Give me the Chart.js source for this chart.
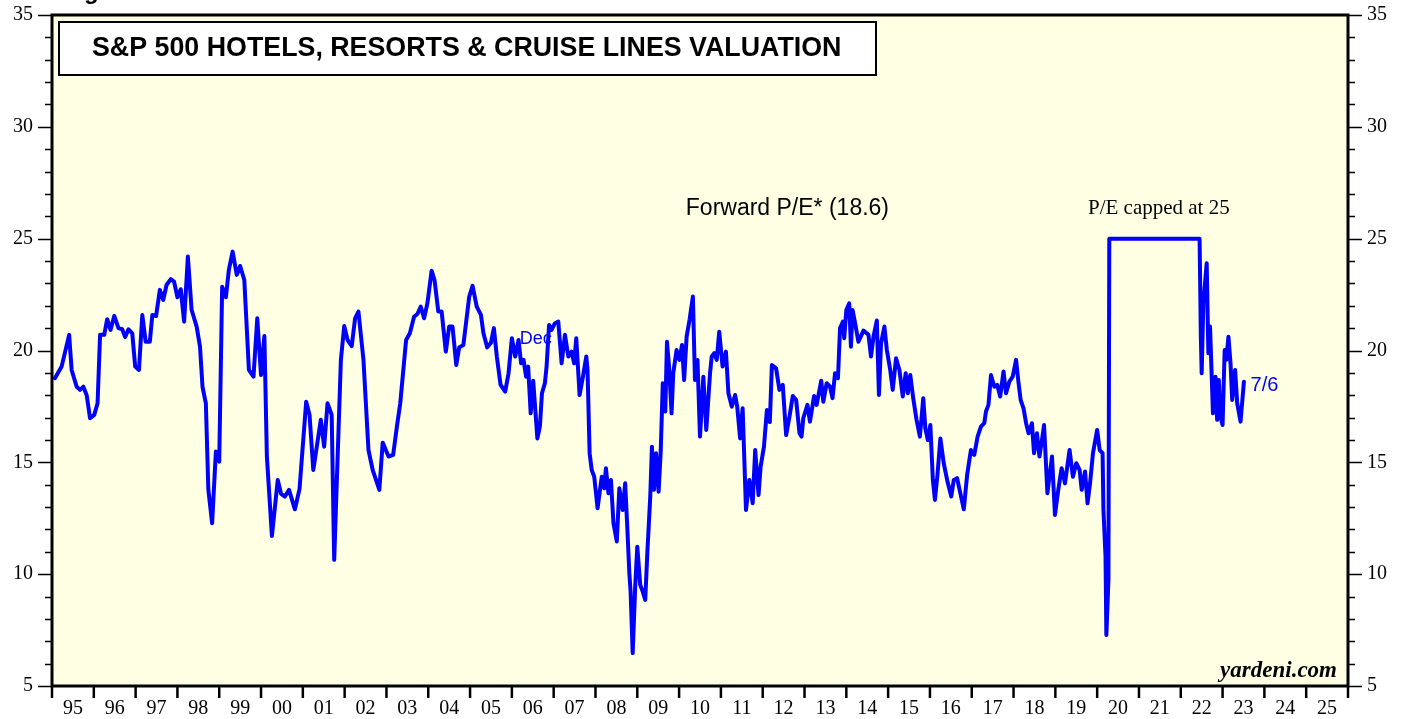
<!DOCTYPE html>
<html>
  <head>
    <title>S&amp;P 500 Hotels, Resorts &amp; Cruise Lines Valuation</title>
    <style>
      body { margin: 0; background: #fff; }
    </style>
  </head>
  <body>
    <canvas id="peChart" width="1408" height="719"></canvas>

    <script src="https://cdn.jsdelivr.net/npm/chart.js@4.4.0/dist/chart.umd.min.js"></script>
    <script>

      // Dates as decimal years, forward P/E
      const dates = [
        1995.07, 1995.23, 1995.41, 1995.47, 1995.59, 1995.67, 1995.75, 1995.83, 1995.91, 1996.01,
        1996.09, 1996.15, 1996.25, 1996.32, 1996.40, 1996.49, 1996.59, 1996.68, 1996.75, 1996.83,
        1996.92, 1996.99, 1997.08, 1997.16, 1997.24, 1997.34, 1997.40, 1997.49, 1997.58, 1997.66,
        1997.74, 1997.84, 1997.92, 1998.00, 1998.08, 1998.16, 1998.25, 1998.34, 1998.46, 1998.54,
        1998.60, 1998.68, 1998.74, 1998.83, 1998.92, 1999.00, 1999.07, 1999.16, 1999.23, 1999.32,
        1999.42, 1999.50, 1999.60, 1999.71, 1999.82, 1999.91, 2000.00, 2000.08, 2000.14, 2000.26,
        2000.40, 2000.48, 2000.57, 2000.67, 2000.81, 2000.92, 2001.08, 2001.16, 2001.25, 2001.43,
        2001.51, 2001.59, 2001.69, 2001.75, 2001.91, 2001.99, 2002.07, 2002.17, 2002.25, 2002.33,
        2002.45, 2002.57, 2002.67, 2002.83, 2002.91, 2003.05, 2003.16, 2003.25, 2003.33, 2003.47,
        2003.56, 2003.66, 2003.74, 2003.82, 2003.90, 2003.98, 2004.08, 2004.15, 2004.24, 2004.32,
        2004.42, 2004.50, 2004.58, 2004.67, 2004.74, 2004.84, 2004.98, 2005.06, 2005.16, 2005.26,
        2005.32, 2005.41, 2005.50, 2005.57, 2005.64, 2005.73, 2005.84, 2005.92, 2006.00, 2006.08,
        2006.16, 2006.22, 2006.28, 2006.34, 2006.39, 2006.45, 2006.51, 2006.61, 2006.67, 2006.72,
        2006.79, 2006.83, 2006.89, 2006.95, 2007.03, 2007.11, 2007.19, 2007.27, 2007.35, 2007.43,
        2007.49, 2007.54, 2007.62, 2007.70, 2007.78, 2007.81, 2007.86, 2007.91, 2007.97, 2008.05,
        2008.15, 2008.21, 2008.25, 2008.31, 2008.37, 2008.43, 2008.51, 2008.57, 2008.65, 2008.71,
        2008.76, 2008.81, 2008.84, 2008.89, 2008.95, 2009.00, 2009.07, 2009.13, 2009.19, 2009.24,
        2009.31, 2009.35, 2009.40, 2009.45, 2009.51, 2009.56, 2009.61, 2009.67, 2009.71, 2009.76,
        2009.82, 2009.86, 2009.94, 2010.01, 2010.07, 2010.12, 2010.18, 2010.25, 2010.33, 2010.38,
        2010.44, 2010.50, 2010.58, 2010.65, 2010.74, 2010.78, 2010.84, 2010.90, 2010.96, 2011.04,
        2011.12, 2011.18, 2011.26, 2011.34, 2011.39, 2011.46, 2011.52, 2011.60, 2011.68, 2011.76,
        2011.82, 2011.90, 2011.95, 2012.03, 2012.10, 2012.17, 2012.22, 2012.32, 2012.40, 2012.48,
        2012.56, 2012.64, 2012.72, 2012.80, 2012.88, 2012.93, 2012.97, 2013.07, 2013.13, 2013.23,
        2013.29, 2013.40, 2013.45, 2013.53, 2013.61, 2013.67, 2013.73, 2013.80, 2013.85, 2013.92,
        2013.95, 2014.00, 2014.07, 2014.11, 2014.15, 2014.21, 2014.29, 2014.41, 2014.53, 2014.59,
        2014.65, 2014.73, 2014.78, 2014.83, 2014.91, 2014.97, 2015.05, 2015.11, 2015.19, 2015.27,
        2015.35, 2015.42, 2015.47, 2015.53, 2015.60, 2015.68, 2015.76, 2015.84, 2015.89, 2015.95,
        2016.01, 2016.07, 2016.12, 2016.18, 2016.25, 2016.33, 2016.42, 2016.51, 2016.57, 2016.65,
        2016.71, 2016.81, 2016.89, 2016.98, 2017.06, 2017.14, 2017.22, 2017.30, 2017.34, 2017.40,
        2017.46, 2017.54, 2017.61, 2017.68, 2017.76, 2017.82, 2017.90, 2017.98, 2018.06, 2018.12,
        2018.17, 2018.24, 2018.30, 2018.36, 2018.44, 2018.49, 2018.56, 2018.62, 2018.68, 2018.73,
        2018.81, 2018.92, 2018.99, 2019.07, 2019.15, 2019.23, 2019.34, 2019.42, 2019.50, 2019.58,
        2019.63, 2019.71, 2019.77, 2019.83, 2019.90, 2020.00, 2020.06, 2020.13, 2020.15, 2020.20,
        2020.22, 2020.27, 2020.29, 2022.45, 2022.48, 2022.50, 2022.54, 2022.62, 2022.66, 2022.70,
        2022.77, 2022.83, 2022.87, 2022.91, 2022.95, 2023.00, 2023.05, 2023.09, 2023.14, 2023.19,
        2023.23, 2023.30, 2023.35, 2023.43, 2023.51
      ];
      const forwardPE = [
        18.76, 19.28, 20.70, 19.13, 18.38, 18.24, 18.38, 18.00, 16.97, 17.12,
        17.64, 20.70, 20.70, 21.40, 20.92, 21.55, 21.00, 20.95, 20.60, 20.95,
        20.77, 19.28, 19.13, 21.59, 20.39, 20.39, 21.59, 21.54, 22.71, 22.26,
        22.93, 23.19, 23.08, 22.38, 22.74, 21.29, 24.20, 21.81, 21.07, 20.17,
        18.38, 17.64, 13.77, 12.28, 15.48, 15.03, 22.85, 22.38, 23.60, 24.42,
        23.38, 23.78, 23.15, 19.13, 18.83, 21.44, 18.90, 20.65, 15.26, 11.71,
        14.21, 13.59, 13.47, 13.77, 12.90, 13.80, 17.71, 17.12, 14.66, 16.90,
        15.70, 17.64, 17.12, 10.64, 19.58, 21.10, 20.47, 20.20, 21.44, 21.74,
        19.58, 15.55, 14.66, 13.77, 15.88, 15.26, 15.33, 16.60, 17.64, 20.47,
        20.77, 21.51, 21.63, 21.96, 21.44, 22.11, 23.57, 23.15, 21.74, 21.74,
        19.95, 21.07, 21.07, 19.35, 20.14, 20.25, 22.41, 22.89, 21.96, 21.59,
        20.77, 20.14, 20.35, 21.00, 19.73, 18.46, 18.16, 18.98, 20.55, 19.73,
        20.47, 19.43, 19.58, 18.83, 19.28, 17.19, 18.65, 16.07, 16.60, 18.09,
        18.54, 19.28, 21.14, 20.92, 21.22, 21.29, 19.43, 20.70, 19.73, 19.95,
        19.43, 20.55, 18.01, 18.83, 19.73, 19.13, 15.41, 14.66, 14.36, 12.95,
        14.36, 13.84, 14.74, 13.62, 14.21, 12.28, 11.46, 13.84, 12.87, 14.06,
        12.13, 10.04, 9.22, 6.47, 9.44, 11.23, 9.52, 9.22, 8.85, 10.94,
        13.47, 15.70, 13.77, 15.41, 13.69, 15.48, 18.54, 17.27, 20.39, 19.28,
        17.19, 18.98, 20.02, 19.58, 20.25, 18.68, 20.62, 21.37, 22.41, 18.68,
        19.58, 16.15, 18.83, 16.45, 18.98, 19.73, 19.88, 19.58, 20.84, 19.28,
        19.95, 18.09, 17.49, 18.01, 17.49, 16.07, 17.42, 12.87, 14.21, 13.17,
        15.55, 13.54, 14.81, 15.70, 17.34, 16.80, 19.35, 19.20, 18.24, 18.46,
        16.22, 17.04, 17.97, 17.79, 16.30, 16.15, 16.97, 17.57, 16.82, 17.97,
        17.57, 18.65, 17.71, 18.54, 18.38, 17.87, 18.98, 18.76, 21.00, 21.29,
        20.55, 21.81, 22.11, 20.17, 21.81, 21.22, 20.39, 20.89, 20.70, 19.73,
        20.62, 21.34, 18.01, 20.32, 21.07, 20.02, 19.13, 18.24, 19.65, 19.13,
        17.94, 18.98, 18.09, 18.90, 17.87, 16.90, 16.15, 17.87, 16.52, 16.00,
        16.67, 14.21, 13.32, 14.44, 16.07, 14.96, 14.14, 13.47, 14.21, 14.29,
        13.77, 12.90, 14.44, 15.55, 15.33, 16.15, 16.60, 16.75, 17.27, 17.57,
        18.90, 18.38, 18.46, 17.94, 19.06, 18.09, 18.61, 18.83, 19.58, 18.54,
        17.79, 17.40, 16.75, 16.30, 16.75, 15.41, 16.30, 15.26, 16.00, 16.67,
        13.62, 15.26, 12.65, 13.77, 14.74, 14.06, 15.55, 14.36, 14.96, 14.66,
        13.77, 14.59, 13.17, 14.06, 15.41, 16.45, 15.55, 15.41, 12.87, 10.79,
        7.28, 9.74, 25.00, 25.00, 20.62, 18.98, 22.11, 23.90, 19.88, 21.07,
        17.19, 18.83, 16.90, 18.68, 17.04, 16.67, 20.02, 19.58, 20.62, 19.43,
        17.79, 19.13, 17.64, 16.82, 18.60
      ];

      // Axis ranges and tick labels
      const yearStart = 1995;
      const yearEnd = 2026;
      const yearLabels = ["95", "96", "97", "98", "99", "00", "01", "02", "03", "04", "05", "06", "07",
        "08", "09", "10", "11", "12", "13", "14", "15", "16", "17", "18", "19", "20", "21", "22", "23", "24", "25"];
      const yMin = 5;
      const yMax = 35;
      const yLabels = [5, 10, 15, 20, 25, 30, 35];

      const serif = "'Liberation Serif', 'Times New Roman', serif";
      const sans = "'Liberation Sans', Arial, sans-serif";

      // Background, axes, ticks and notes, drawn with the chart's scales
      const decorations = {
        id: "decorations",
        beforeDraw(chart) {
          const { ctx, chartArea: a } = chart;
          ctx.save();
          ctx.fillStyle = "#ffffe4";
          ctx.fillRect(a.left, a.top, a.right - a.left, a.bottom - a.top);
          ctx.restore();
        },
        beforeDatasetsDraw(chart) {
          const { ctx, scales } = chart;
          ctx.save();
          ctx.fillStyle = "#0000ff";
          ctx.font = "18px " + sans;
          ctx.textBaseline = "middle";
          ctx.fillText("Dec", scales.x.getPixelForValue(2006.19), scales.y.getPixelForValue(20.5));
          ctx.restore();
        },
        afterDraw(chart) {
          const { ctx, chartArea: a, scales } = chart;
          const x = scales.x, y = scales.y;
          ctx.save();

          // y ticks, both sides
          ctx.strokeStyle = "#000";
          ctx.lineWidth = 1.5;
          for (let v = yMin; v <= yMax; v++) {
            const py = Math.round(y.getPixelForValue(v)) + 0.5;
            const len = v % 5 === 0 ? 14 : 7;
            ctx.beginPath();
            ctx.moveTo(a.left - len, py);
            ctx.lineTo(a.left, py);
            ctx.moveTo(a.right, py);
            ctx.lineTo(a.right + len, py);
            ctx.stroke();
          }
          ctx.fillStyle = "#000";
          ctx.font = "20px " + serif;
          ctx.textBaseline = "middle";
          yLabels.forEach(v => {
            const py = y.getPixelForValue(v);
            ctx.textAlign = "right";
            ctx.fillText(String(v), a.left - 19, py);
            ctx.textAlign = "left";
            ctx.fillText(String(v), a.right + 19, py);
          });

          // x ticks and year labels
          ctx.lineWidth = 2.5;
          for (let yr = yearStart; yr <= yearEnd; yr++) {
            const px = x.getPixelForValue(yr);
            ctx.beginPath();
            ctx.moveTo(px, a.bottom);
            ctx.lineTo(px, a.bottom + 12);
            ctx.stroke();
          }
          ctx.textAlign = "center";
          ctx.textBaseline = "alphabetic";
          yearLabels.forEach((lab, i) => {
            ctx.fillText(lab, x.getPixelForValue(yearStart + i + 0.5), a.bottom + 28);
          });

          // plot frame
          ctx.lineWidth = 3;
          ctx.strokeRect(a.left, a.top, a.right - a.left, a.bottom - a.top);

          // title box
          ctx.fillStyle = "#fff";
          ctx.fillRect(a.left + 7, a.top + 7, 817, 53);
          ctx.lineWidth = 2;
          ctx.strokeRect(a.left + 7, a.top + 7, 817, 53);
          ctx.fillStyle = "#000";
          ctx.font = "bold 26.8px " + sans;
          ctx.textAlign = "left";
          ctx.textBaseline = "middle";
          ctx.fillText("S&P 500 HOTELS, RESORTS & CRUISE LINES VALUATION", a.left + 40, a.top + 34);

          // cut off heading above the chart
          ctx.font = "bold 24px " + sans;
          ctx.textBaseline = "alphabetic";
          ctx.fillText("Figure", 84 - ctx.measureText("Fi").width, -1);

          // notes
          ctx.font = "23px " + sans;
          ctx.textBaseline = "middle";
          ctx.fillText("Forward P/E* (18.6)", x.getPixelForValue(2010.16), y.getPixelForValue(26.35));
          ctx.font = "21px " + serif;
          ctx.fillText("P/E capped at 25", x.getPixelForValue(2019.78), y.getPixelForValue(26.35));
          ctx.fillStyle = "#0000ff";
          ctx.font = "20px " + sans;
          ctx.fillText("7/6", x.getPixelForValue(2023.67), y.getPixelForValue(18.45));

          ctx.fillStyle = "#000";
          ctx.font = "italic bold 23px " + serif;
          ctx.textAlign = "right";
          ctx.fillText("yardeni.com", a.right - 11, a.bottom - 15);
          ctx.restore();
        }
      };

      const ctx = document.getElementById("peChart").getContext("2d");

      const chart = new Chart(ctx, {
        type: "line",
        data: {
          datasets: [{
            label: "Forward P/E",
            data: dates.map((d, i) => ({ x: d, y: forwardPE[i] })),
            borderColor: "#0000ff",
            borderWidth: 4,
            borderJoinStyle: "round",
            borderCapStyle: "round",
            pointRadius: 0,
            tension: 0,
            fill: false
          }]
        },
        options: {
          responsive: false,
          animation: false,
          devicePixelRatio: 1,
          layout: { padding: { left: 52, right: 60, top: 15, bottom: 33 } },
          plugins: {
            legend: { display: false },
            tooltip: { enabled: false }
          },
          scales: {
            x: { type: "linear", min: yearStart, max: yearEnd, display: false },
            y: { type: "linear", min: yMin, max: yMax, display: false }
          }
        },
        plugins: [decorations]
      });

    </script>
  </body>
</html>
